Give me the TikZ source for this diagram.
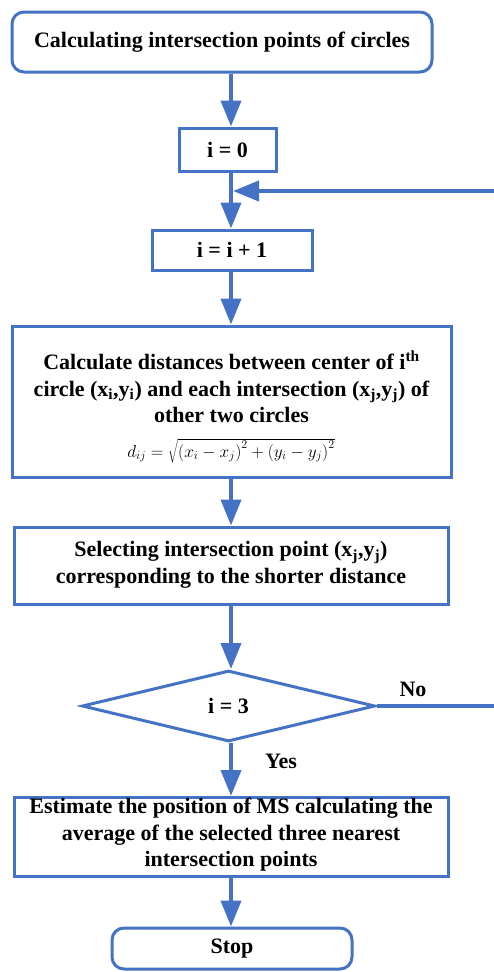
\documentclass[tikz,border=0pt]{standalone}
\usepackage{fontspec}
\setmainfont{Liberation Serif}
\usetikzlibrary{arrows.meta,shapes.geometric}
\definecolor{fb}{RGB}{68,114,196}
\begin{document}
\begin{tikzpicture}[x=1pt,y=-1pt,
  boxs/.style={draw=fb,line width=3pt,inner sep=0pt,fill=white},
  txt/.style={font=\bfseries\fontsize{22}{26.5}\selectfont,align=center,inner sep=0pt,text=black},
  arr/.style={draw=fb,line width=4pt,-{Triangle[length=26pt,width=20pt]}},
  lbl/.style={font=\bfseries\fontsize{22}{24}\selectfont,inner sep=0pt}]
\useasboundingbox (0,0) rectangle (494,972);
\coordinate (ax) at (231,0);
% boxes
\node[boxs,rounded corners=12pt,minimum width=420pt,minimum height=60pt] (start) at (222,42) {};
\node[txt] (startt) at (222,42) {Calculating intersection points of circles};
\node[boxs,minimum width=97pt,minimum height=43pt] (i0) at (227.5,149.5) {};
\node[txt] (i0t) at (227.5,149.5) {i = 0};
\node[boxs,minimum width=160pt,minimum height=40pt] (inc) at (232,250) {};
\node[txt] (inct) at (232,250) {i = i + 1};
\node[boxs,minimum width=439pt,minimum height=151pt] (calc) at (231.5,401.5) {};
\node[txt] (calct) at (231.5,387) {Calculate distances between center of i\textsuperscript{th}\\
circle (x\textsubscript{i},y\textsubscript{i}) and each intersection (x\textsubscript{j},y\textsubscript{j}) of\\
other two circles};
\node[inner sep=0pt,font=\fontsize{18}{20}\selectfont] (form) at (231,451) {$d_{ij}=\sqrt{\left(x_i-x_j\right)^2+\left(y_i-y_j\right)^2}$};
\node[boxs,minimum width=434pt,minimum height=77pt] (sel) at (231,565.5) {};
\node[txt] (selt) at (231,565) {Selecting intersection point (x\textsubscript{j},y\textsubscript{j})\\
corresponding to the shorter distance};
\node[diamond,draw=fb,line width=3pt,inner sep=0pt,minimum width=293pt,minimum height=71pt,fill=white] (dia) at (228.5,706) {};
\node[txt] (diat) at (228.5,706) {i = 3};
\node[boxs,minimum width=434pt,minimum height=79pt] (est) at (231,837) {};
\node[txt] (estt) at (231,835) {Estimate the position of MS calculating the\\
average of the selected three nearest\\
intersection points};
\node[boxs,rounded corners=12pt,minimum width=240pt,minimum height=41pt] (stop) at (232,948.5) {};
\node[txt] (stopt) at (232,948.5) {Stop};
% labels
\node[lbl] (no) at (413,689) {No};
\node[lbl] (yes) at (281,761) {Yes};
% connectors
\coordinate (j1) at (233,191);
\coordinate (loopR) at (497,706);
\coordinate (loopT) at (497,191);
\draw[arr] (start.south -| ax) -- (i0.north -| ax);
\draw[arr] (i0.south -| ax) -- (inc.north -| ax);
\draw[arr] (inc.south -| ax) -- (calc.north -| ax);
\draw[arr] (calc.south -| ax) -- (sel.north -| ax);
\draw[arr] (sel.south -| ax) -- (dia.north -| ax);
\draw[arr] (dia.south -| ax) -- (est.north -| ax);
\draw[arr] (est.south -| ax) -- (stop.north -| ax);
\draw[arr] (dia.east) -- (loopR) -- (loopT) -- (j1);
\end{tikzpicture}
\end{document}
